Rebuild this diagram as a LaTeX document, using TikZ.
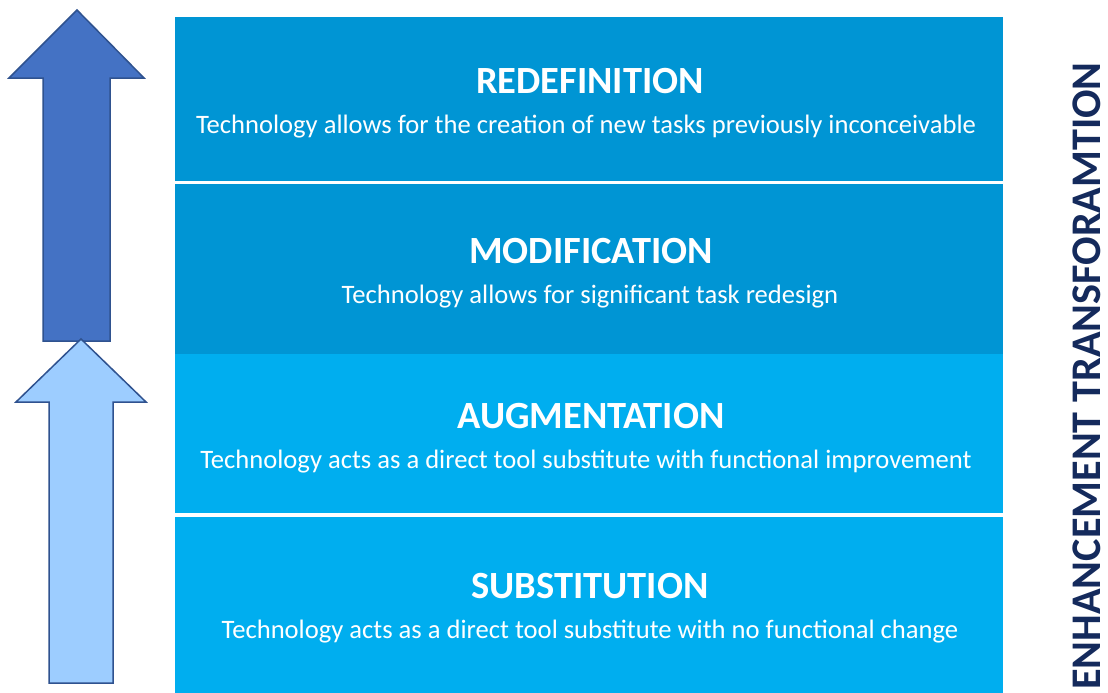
\documentclass[tikz,border=0pt]{standalone}
\usepackage{fontspec}
\setmainfont{Carlito}
\definecolor{darkband}{RGB}{0,149,212}
\definecolor{lightband}{RGB}{0,174,239}
\definecolor{arrowdark}{RGB}{68,114,196}
\definecolor{arrowlight}{RGB}{157,205,255}
\definecolor{arrowline}{RGB}{47,82,143}
\definecolor{navy}{RGB}{20,42,92}
\tikzset{
  band/.style={draw=none},
  ttl/.style={text=white, font=\fontsize{38.5}{40}\selectfont\bfseries, anchor=base, inner sep=0pt},
  dsc/.style={text=white, font=\fontsize{26.6}{28}\selectfont, anchor=base, inner sep=0pt},
  bigarrow/.style={draw=arrowline, line width=1.5pt, line join=miter},
  sidetext/.style={text=navy, font=\fontsize{42.2}{44}\selectfont\bfseries, rotate=90, anchor=base, inner sep=0pt}
}
\begin{document}
\begin{tikzpicture}[x=1pt,y=-1pt]
\useasboundingbox (0,0) rectangle (1108,693);
\fill[white] (0,0) rectangle (1108,693);
% bands
\fill[darkband] (175,17) rectangle (1003,181);
\fill[darkband] (175,184) rectangle (1003,354);
\fill[lightband] (175,354) rectangle (1003,513);
\fill[lightband] (175,517) rectangle (1003,693);
% texts
\node[ttl] (t1) at (590,93) {REDEFINITION};
\node[dsc] (d1) at (586,133) {Technology allows for the creation of new tasks previously inconceivable};
\node[ttl] (t2) at (591,263) {MODIFICATION};
\node[dsc] (d2) at (590,303) {Technology allows for significant task redesign};
\node[ttl] (t3) at (591,428) {AUGMENTATION};
\node[dsc] (d3) at (586,468) {Technology acts as a direct tool substitute with functional improvement};
\node[ttl] (t4) at (590,598) {SUBSTITUTION};
\node[dsc] (d4) at (590,638) {Technology acts as a direct tool substitute with no functional change};
% arrows
\filldraw[bigarrow, fill=arrowdark] (77,10) -- (144,78) -- (110,78) -- (110,341) -- (43,341) -- (43,78) -- (9,78) -- cycle;
\filldraw[bigarrow, fill=arrowlight] (81,339) -- (146,402) -- (113,402) -- (113,683) -- (49,683) -- (49,402) -- (16,402) -- cycle;
% side text
\node[sidetext] (side) at (1100,376) {ENHANCEMENT TRANSFORAMTION};
\end{tikzpicture}
\end{document}
